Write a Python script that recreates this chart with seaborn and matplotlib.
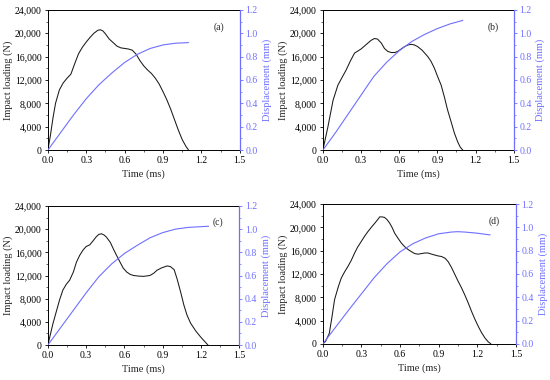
import matplotlib
matplotlib.use("Agg")
import matplotlib.pyplot as plt
from matplotlib.ticker import FuncFormatter, MultipleLocator
import seaborn as sns
import numpy as np

sns.set_theme(style="ticks")
plt.rcParams['font.family'] = ['Liberation Serif', 'DejaVu Serif']

BLUE = "#6f6fff"

# ---- Panel (a) ----
a_load_t = [0, 0.02, 0.04, 0.06, 0.09, 0.12, 0.15, 0.18, 0.21, 0.24, 0.27, 0.30, 0.33, 0.36, 0.39, 0.41,
            0.43, 0.45, 0.48, 0.51, 0.54, 0.57, 0.60, 0.63, 0.66, 0.69, 0.72, 0.75, 0.78, 0.81, 0.84,
            0.87, 0.90, 0.93, 0.96, 0.99, 1.02, 1.05, 1.08, 1.10]
a_load = [0, 2500, 5500, 8000, 10300, 11500, 12300, 13000, 14800, 16500, 17600, 18500, 19300, 20000,
          20500, 20600, 20400, 19900, 19000, 18400, 17800, 17500, 17400, 17300, 17100, 16400, 15300,
          14400, 13700, 13100, 12300, 11300, 10000, 8600, 7000, 5200, 3400, 1800, 600, 0]
a_disp_t = [0, 0.1, 0.2, 0.3, 0.4, 0.5, 0.6, 0.7, 0.8, 0.9, 1.0, 1.1]
a_disp = [0, 0.15, 0.30, 0.44, 0.56, 0.66, 0.75, 0.82, 0.87, 0.90, 0.915, 0.92]

# ---- Panel (b) ----
b_load_t = [0, 0.04, 0.08, 0.118, 0.15, 0.183, 0.215, 0.249, 0.30, 0.353, 0.38, 0.406, 0.43, 0.46,
            0.484, 0.51, 0.537, 0.565, 0.589, 0.615, 0.641, 0.67, 0.694, 0.72, 0.746, 0.78, 0.825,
            0.85, 0.877, 0.90, 0.93, 0.955, 0.98, 1.01, 1.034, 1.06, 1.08, 1.10]
b_load = [0, 4000, 8500, 11100, 12400, 13700, 15200, 16600, 17300, 18300, 18800, 19100, 19000, 18300,
          17400, 16900, 16700, 16700, 16900, 17300, 17700, 18000, 18100, 18000, 17700, 17100, 16000,
          15200, 14000, 12700, 11100, 9100, 6900, 4700, 2900, 1400, 500, 0]
b_disp_t = [0, 0.1, 0.2, 0.3, 0.4, 0.5, 0.6, 0.7, 0.8, 0.9, 1.0, 1.1]
b_disp = [0, 0.15, 0.31, 0.47, 0.63, 0.75, 0.85, 0.93, 0.99, 1.04, 1.08, 1.11]

# ---- Panel (c) ----
c_load_t = [0, 0.04, 0.092, 0.118, 0.145, 0.171, 0.2, 0.224, 0.25, 0.276, 0.30, 0.329, 0.355, 0.38,
            0.40, 0.42, 0.44, 0.46, 0.49, 0.513, 0.54, 0.566, 0.59, 0.618, 0.645, 0.671, 0.71, 0.75,
            0.8, 0.83, 0.855, 0.89, 0.934, 0.96, 0.99, 1.013, 1.04, 1.066, 1.09, 1.118, 1.16, 1.197,
            1.23, 1.255]
c_load = [0, 3700, 7800, 9500, 10500, 11200, 12600, 14300, 15500, 16400, 17000, 17300, 18000, 18700,
          19100, 19200, 19000, 18600, 17700, 16600, 15400, 14300, 13300, 12600, 12200, 12000, 11900,
          11850, 12000, 12400, 12900, 13300, 13650, 13550, 13000, 11400, 9200, 6900, 5200, 3800,
          2400, 1400, 600, 0]
c_disp_t = [0, 0.1, 0.2, 0.3, 0.4, 0.5, 0.6, 0.7, 0.8, 0.9, 1.0, 1.1, 1.26]
c_disp = [0, 0.15, 0.30, 0.45, 0.59, 0.70, 0.79, 0.86, 0.925, 0.97, 1.0, 1.015, 1.025]

# ---- Panel (d) ----
d_load_t = [0, 0.02, 0.05, 0.07, 0.091, 0.12, 0.143, 0.17, 0.195, 0.22, 0.247, 0.27, 0.299, 0.325,
            0.351, 0.38, 0.403, 0.425, 0.442, 0.46, 0.48, 0.50, 0.52, 0.54, 0.558, 0.585, 0.61, 0.635,
            0.662, 0.69, 0.714, 0.74, 0.766, 0.79, 0.818, 0.845, 0.87, 0.895, 0.922, 0.95, 0.974,
            1.0, 1.026, 1.05, 1.078, 1.105, 1.13, 1.155, 1.182, 1.21, 1.234, 1.26, 1.285, 1.306]
d_load = [0, 400, 1800, 4500, 7600, 9800, 11300, 12400, 13300, 14300, 15600, 16600, 17600, 18500,
          19300, 20100, 20700, 21300, 21800, 21800, 21700, 21300, 20700, 19900, 19000, 18100, 17300,
          16700, 16200, 15800, 15500, 15400, 15500, 15600, 15600, 15400, 15250, 15100, 15000, 14700,
          14100, 13100, 11900, 10800, 9600, 8300, 7000, 5600, 4200, 2900, 1900, 1000, 350, 0]
d_disp_t = [0, 0.1, 0.2, 0.3, 0.4, 0.5, 0.6, 0.7, 0.8, 0.9, 1.0, 1.05, 1.1, 1.2, 1.3]
d_disp = [0, 0.145, 0.29, 0.43, 0.57, 0.69, 0.79, 0.86, 0.91, 0.945, 0.96, 0.963, 0.96, 0.95, 0.935]

panels = [
    ("(a)", a_load_t, a_load, a_disp_t, a_disp, [0.087, 0.605, 0.349, 0.369]),
    ("(b)", b_load_t, b_load, b_disp_t, b_disp, [0.587, 0.605, 0.347, 0.369]),
    ("(c)", c_load_t, c_load, c_disp_t, c_disp, [0.087, 0.092, 0.348, 0.366]),
    ("(d)", d_load_t, d_load, d_disp_t, d_disp, [0.587, 0.095, 0.351, 0.368]),
]

fig = plt.figure(figsize=(5.5, 3.8), dpi=100)
fig.patch.set_facecolor("white")

TICK_FS = 7
LAB_FS = 7.5

for label, lt, lv, dt, dv, rect in panels:
    ax = fig.add_axes(rect)
    ax2 = ax.twinx()
    sns.lineplot(x=lt, y=lv, ax=ax, color="#1a1a1a", linewidth=0.75, estimator=None, sort=False)
    sns.lineplot(x=dt, y=dv, ax=ax2, color=BLUE, linewidth=0.8, estimator=None, sort=False)

    ax.set_xlim(0, 1.5)
    ax.set_ylim(0, 24000)
    ax2.set_ylim(0, 1.2)
    ax.xaxis.set_major_locator(MultipleLocator(0.3))
    ax.xaxis.set_minor_locator(MultipleLocator(0.15))
    ax.yaxis.set_major_locator(MultipleLocator(4000))
    ax.yaxis.set_minor_locator(MultipleLocator(2000))
    ax2.yaxis.set_major_locator(MultipleLocator(0.2))
    ax2.yaxis.set_minor_locator(MultipleLocator(0.1))
    ax.xaxis.set_major_formatter(FuncFormatter(lambda v, p: f"{v:.1f}"))
    ax.yaxis.set_major_formatter(FuncFormatter(lambda v, p: f"{v:,.0f}"))
    ax2.yaxis.set_major_formatter(FuncFormatter(lambda v, p: f"{v:.1f}"))

    for s in ["left", "bottom", "top"]:
        ax.spines[s].set_visible(True)
        ax.spines[s].set_color("black")
        ax.spines[s].set_linewidth(0.7)
    ax.spines["right"].set_visible(False)
    for s in ["left", "bottom", "top"]:
        ax2.spines[s].set_visible(False)
    ax2.spines["right"].set_visible(True)
    ax2.spines["right"].set_color(BLUE)
    ax2.spines["right"].set_linewidth(0.9)

    ax.tick_params(axis="both", which="major", direction="out", length=2.5, width=0.6,
                   labelsize=TICK_FS, pad=2, colors="black", top=False, right=False)
    ax.tick_params(axis="both", which="minor", direction="out", length=1.5, width=0.5,
                   top=False, right=False)
    ax2.tick_params(axis="y", which="major", direction="out", length=2.5, width=0.6,
                    labelsize=TICK_FS, pad=1.5, colors=BLUE)
    ax2.tick_params(axis="y", which="minor", direction="out", length=1.5, width=0.5, colors=BLUE)

    ax.set_xlabel("Time (ms)", fontsize=LAB_FS, labelpad=3)
    ax.set_ylabel("Impact loading (N)", fontsize=LAB_FS, labelpad=1.5)
    ax2.set_ylabel("Displacement (mm)", fontsize=LAB_FS, labelpad=3, color=BLUE)
    ax.text(0.89, 0.88, label, transform=ax.transAxes, fontsize=TICK_FS, ha="center", va="center")
    ax.set_facecolor("white")

fig.savefig("out.png", dpi=100, facecolor="white")
